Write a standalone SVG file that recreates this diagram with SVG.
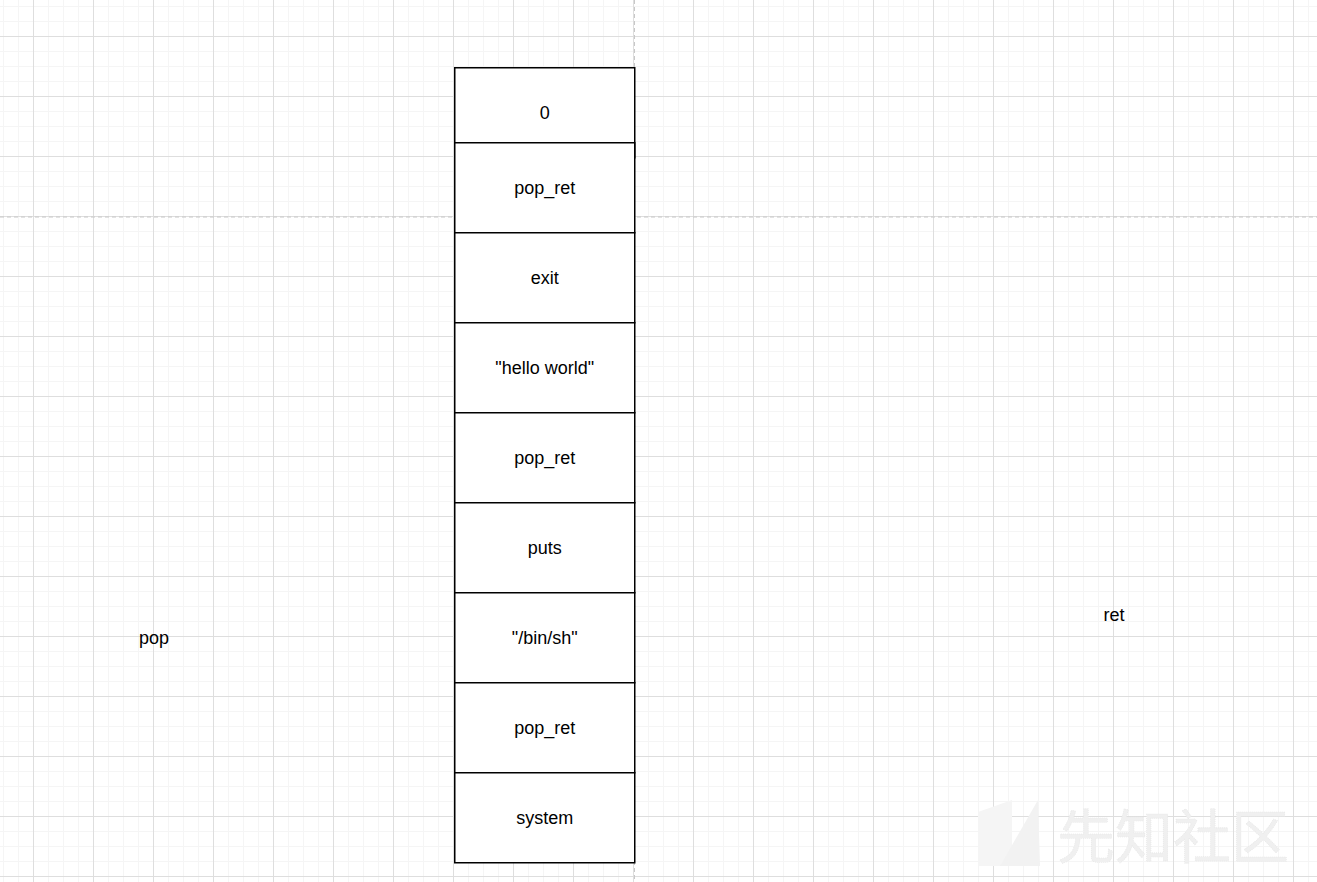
<svg xmlns="http://www.w3.org/2000/svg" width="1317" height="882" viewBox="0 0 1317 882">
<style>
.cell{fill:#ffffff;stroke:#000000;stroke-width:1.5}
.lbl{font-family:"Liberation Sans",Arial,sans-serif;font-size:18px;fill:#000000;text-anchor:middle;dominant-baseline:central}
.pg{stroke:#c8c8c8;stroke-width:1;stroke-dasharray:4 3;fill:none}
.wm{font-family:"Noto Sans CJK SC",sans-serif;font-size:58px;fill:#f0f0f0;stroke:#e6e6e6;stroke-width:0.6;stroke-dasharray:1 1}
</style>
<defs>
<pattern id="minor" x="3" y="6" width="15" height="15" patternUnits="userSpaceOnUse">
<path d="M0.5 0V15M0 0.5H15" stroke="#f5f5f5" stroke-width="1" fill="none"/>
</pattern>
<pattern id="major" x="33" y="36" width="60" height="60" patternUnits="userSpaceOnUse">
<path d="M0.5 0V60M0 0.5H60" stroke="#dedede" stroke-width="1" fill="none"/>
</pattern>
</defs>
<rect width="1317" height="882" fill="#ffffff"/>
<rect width="1317" height="882" fill="url(#minor)"/>
<rect width="1317" height="882" fill="url(#major)"/>
<g id="pagebreaks">
<path class="pg" d="M634.5 0V882"/>
<path class="pg" d="M0 217H1317"/>
</g>
<g id="watermark">
<polygon points="978,812 1012,800 1012,866 978,866" fill="#f5f5f5"/>
<polygon points="1000,866 1038,800 1040,866" fill="#f2f2f2"/>
<text class="wm" x="1057" y="858">先知社区</text>
</g>
<g id="stack">
<g id="n0"><rect class="cell" x="454.75" y="67.75" width="180" height="90"/><text class="lbl" x="544.75" y="112.75">0</text></g>
<g id="n1"><rect class="cell" x="454.75" y="142.75" width="180" height="90"/><text class="lbl" x="544.75" y="187.75">pop_ret</text></g>
<g id="n2"><rect class="cell" x="454.75" y="232.75" width="180" height="90"/><text class="lbl" x="544.75" y="277.75">exit</text></g>
<g id="n3"><rect class="cell" x="454.75" y="322.75" width="180" height="90"/><text class="lbl" x="544.75" y="367.75">"hello world"</text></g>
<g id="n4"><rect class="cell" x="454.75" y="412.75" width="180" height="90"/><text class="lbl" x="544.75" y="457.75">pop_ret</text></g>
<g id="n5"><rect class="cell" x="454.75" y="502.75" width="180" height="90"/><text class="lbl" x="544.75" y="547.75">puts</text></g>
<g id="n6"><rect class="cell" x="454.75" y="592.75" width="180" height="90"/><text class="lbl" x="544.75" y="637.75">"/bin/sh"</text></g>
<g id="n7"><rect class="cell" x="454.75" y="682.75" width="180" height="90"/><text class="lbl" x="544.75" y="727.75">pop_ret</text></g>
<g id="n8"><rect class="cell" x="454.75" y="772.75" width="180" height="90"/><text class="lbl" x="544.75" y="817.75">system</text></g>
</g>
<g id="pop"><text class="lbl" x="154" y="638">pop</text></g>
<g id="ret"><text class="lbl" x="1114" y="615">ret</text></g>
<g id="connectors"></g>
</svg>
